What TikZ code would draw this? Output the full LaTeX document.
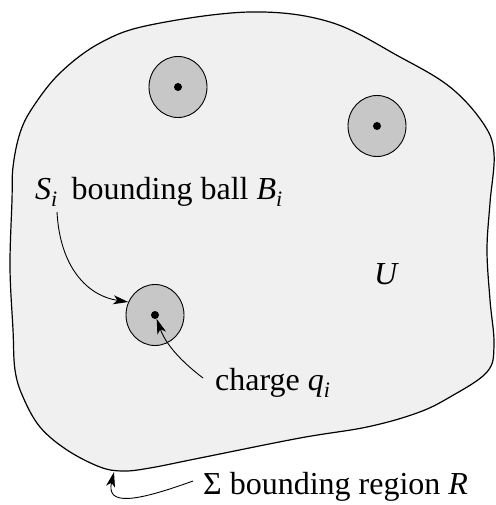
\documentclass[tikz,border=0pt]{standalone}
\usepackage{fontspec}
\setmainfont{Liberation Serif}
\newfontfamily\lblfont{Liberation Serif}
\usetikzlibrary{arrows.meta,shapes.geometric}
\definecolor{regionfill}{gray}{0.94}
\definecolor{ballfill}{gray}{0.78}
\newcommand\mysub[1]{\raisebox{-0.22em}{\fontsize{22}{22}\selectfont\itshape #1}}
\tikzset{
  ball/.style={ellipse, draw=black, line width=0.9pt, fill=ballfill, minimum width=58pt, minimum height=61pt, inner sep=0pt},
  chargedot/.style={circle, fill=black, minimum size=8pt, inner sep=0pt},
  lbl/.style={inner sep=0pt, anchor=base west, font=\lblfont\fontsize{32}{38}\selectfont},
  pointer/.style={line width=0.9pt, -{Stealth[length=15pt,width=9pt,inset=4pt]}},
}
\begin{document}
\begin{tikzpicture}[x=1pt,y=-1pt]
\useasboundingbox (0,0) rectangle (495,505);
% region U
\draw[line width=1.2pt, fill=regionfill] plot[smooth cycle, tension=0.6] coordinates {
(250,12) (330,22) (400,57) (450,87) (483,123) (494,153) (490,203) (487,250) (490,300) (494,345)
(487,372) (450,397) (417,413) (367,427) (300,438) (200,458) (150,468) (123,471) (100,467)
(67,450) (40,427) (23,397) (15,370) (13,330) (10,267) (12,200) (13,167) (20,133) (33,107)
(60,73) (100,43) (150,25)};
% balls
\node[ball] (b1) at (178,87) {};
\node[ball] (b2) at (377,126) {};
\node[ball] (b3) at (155,315) {};
\node[chargedot] (d1) at (178,87) {};
\node[chargedot] (d2) at (377,126) {};
\node[chargedot] (d3) at (155,315) {};
% labels
\node[lbl] (lab1) at (35,199) {\textit{S}\mysub{i}\hspace{0.2em} bounding ball \textit{B}\mysub{i}};
\node[lbl] (labU) at (374,284) {\textit{U}};
\node[lbl] (labq) at (215,390) {charge \textit{q}\mysub{i}};
\node[lbl] (labR) at (203,494) {Σ bounding region \textit{R}};
% connectors
\coordinate (t1) at (57,212);
\coordinate (t2) at (203,378);
\coordinate (t3) at (193,481);
\coordinate (r1) at (114,472);
\draw[pointer] (t1) .. controls (60,268) and (88,296) .. (b3.154);
\draw[pointer] (t2) .. controls (182,362) and (166,345) .. (d3.-67);
\draw[pointer] (t3) .. controls (135,502) and (106,506) .. (r1);
\end{tikzpicture}
\end{document}
